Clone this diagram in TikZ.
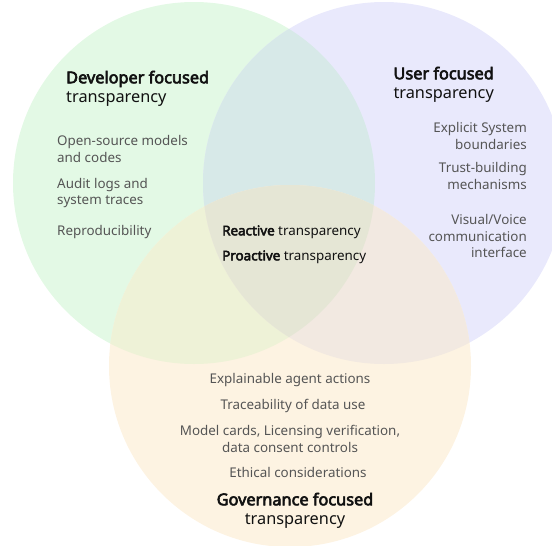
\documentclass[tikz,border=0pt]{standalone}
\usepackage{fontspec}
\setmainfont{Noto Sans}[BoldFont={Noto Sans},BoldFeatures={FakeBold=3.6}]
\definecolor{cG}{HTML}{E3F9E5}
\definecolor{cB}{HTML}{E9E9FC}
\definecolor{cO}{HTML}{FDF3E2}
\definecolor{cGB}{HTML}{D7E9E8}
\definecolor{cGO}{HTML}{EEF2D7}
\definecolor{cBO}{HTML}{F2E9E1}
\definecolor{cGBO}{HTML}{E5E6D5}
\definecolor{itemgray}{HTML}{555555}
\definecolor{headblack}{HTML}{111111}
\begin{document}
\begin{tikzpicture}[x=1pt,y=-1pt,
  item/.style={inner sep=0pt,text=itemgray,font=\fontsize{13.4}{16.4}\selectfont},
  head/.style={inner sep=0pt,text=headblack,font=\fontsize{16.3}{19}\selectfont},
  core/.style={inner sep=0pt,text=headblack,font=\fontsize{13.4}{16}\selectfont}]
\useasboundingbox (0,0) rectangle (552,546);
\def\Gc{(194,183) circle[radius=181]}
\def\Bc{(384,183) circle[radius=181]}
\def\Oc{(290,366) circle[radius=181]}
\begin{scope}
\clip (0,0) rectangle (552,546);
\fill[cG] \Gc;
\fill[cB] \Bc;
\fill[cO] \Oc;
\begin{scope}\clip \Gc; \fill[cGB] \Bc; \end{scope}
\begin{scope}\clip \Gc; \fill[cGO] \Oc; \end{scope}
\begin{scope}\clip \Bc; \fill[cBO] \Oc; \end{scope}
\begin{scope}\clip \Gc; \clip \Bc; \fill[cGBO] \Oc; \end{scope}
\end{scope}

\node[head,anchor=west,align=left] (devh) at (66,88.5) {\textbf{Developer focused}\\transparency};
\node[item,anchor=west,align=left] (dev1) at (57,149) {Open-source models\\and codes};
\node[item,anchor=west,align=left] (dev2) at (57,193) {Audit logs and\\system traces};
\node[item,anchor=west,align=left] (dev3) at (57,232) {Reproducibility};

\node[head,anchor=east,align=right] (userh) at (494,84.5) {\textbf{User focused}\\transparency};
\node[item,anchor=east,align=right] (user1) at (527,136) {Explicit System\\boundaries};
\node[item,anchor=east,align=right] (user2) at (527,176) {Trust-building\\mechanisms};
\node[item,anchor=east,align=right] (user3) at (527,236) {Visual/Voice\\communication\\interface};

\node[core,anchor=west] (react) at (222,232) {\textbf{Reactive} transparency};
\node[core,anchor=west] (proact) at (222,257) {\textbf{Proactive} transparency};

\node[item] (gov1) at (290,380) {Explainable agent actions};
\node[item] (gov2) at (293,406) {Traceability of data use};
\node[item,align=center] (gov3) at (290,439) {Model cards, Licensing verification,\\data consent controls};
\node[item] (gov4) at (298,472) {Ethical considerations};
\node[head,align=center] (govh) at (295,510.5) {\textbf{Governance focused}\\transparency};
\end{tikzpicture}
\end{document}
